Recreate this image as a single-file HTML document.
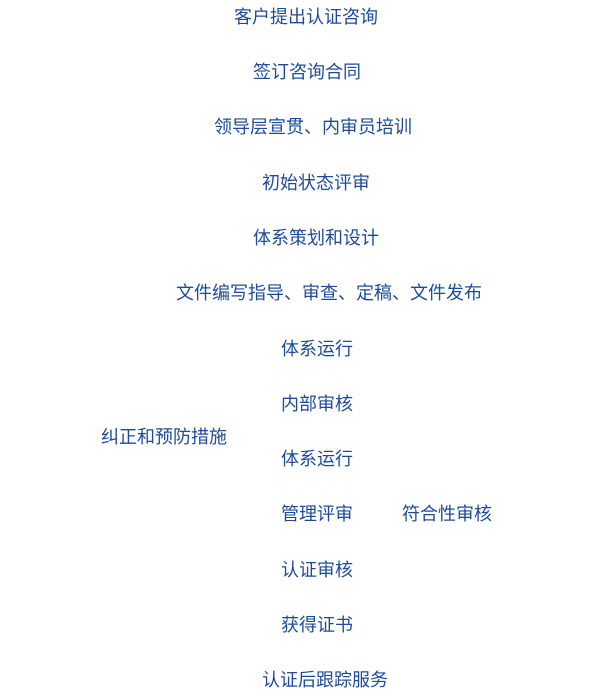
<!DOCTYPE html>
<html><head><meta charset="utf-8"><style>
body{margin:0;width:600px;height:696px;background:#fff;position:relative;overflow:hidden;font-family:"Liberation Sans","Noto Sans CJK SC",sans-serif;}
div{position:absolute;font-size:18px;line-height:22px;color:#1d4b99;white-space:nowrap;}
</style></head><body>
<div style="left:234px;top:6px">客户提出认证咨询</div>
<div style="left:253px;top:61px">签订咨询合同</div>
<div style="left:214px;top:116px">领导层宣贯、内审员培训</div>
<div style="left:262px;top:172px">初始状态评审</div>
<div style="left:253px;top:227px">体系策划和设计</div>
<div style="left:176px;top:282px">文件编写指导、审查、定稿、文件发布</div>
<div style="left:281px;top:338px">体系运行</div>
<div style="left:281px;top:393px">内部审核</div>
<div style="left:101px;top:426px">纠正和预防措施</div>
<div style="left:281px;top:448px">体系运行</div>
<div style="left:281px;top:503px">管理评审</div>
<div style="left:402px;top:503px">符合性审核</div>
<div style="left:281px;top:559px">认证审核</div>
<div style="left:281px;top:614px">获得证书</div>
<div style="left:262px;top:669px">认证后跟踪服务</div>
</body></html>
